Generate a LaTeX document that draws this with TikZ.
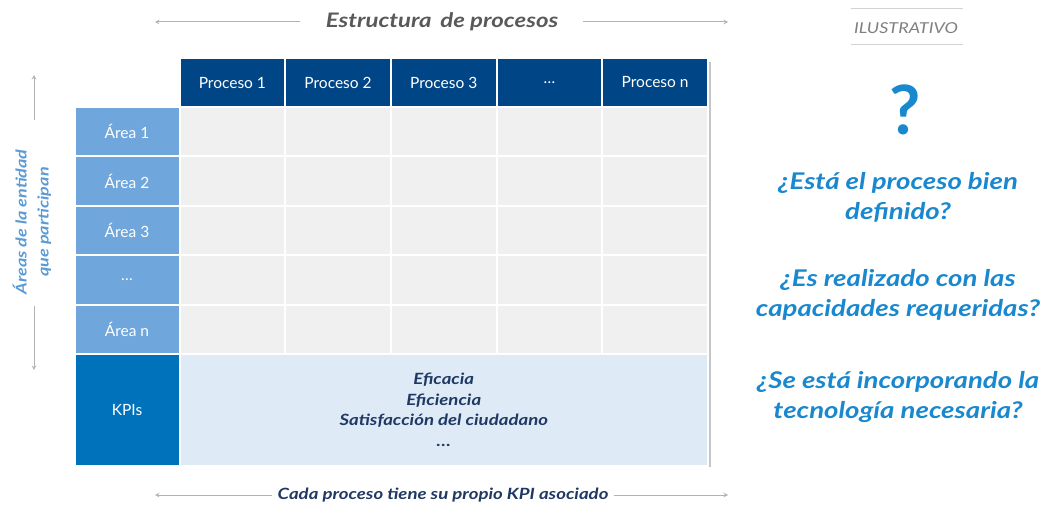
\documentclass[tikz,border=0pt]{standalone}
\usepackage{fontspec}
\setmainfont{Lato}
\newfontfamily\widefont[FakeStretch=1.2]{Lato}
\usetikzlibrary{positioning}
\definecolor{headblue}{RGB}{0,70,135}
\definecolor{areablue}{RGB}{111,166,219}
\definecolor{kpiblue}{RGB}{0,114,188}
\definecolor{bandblue}{RGB}{222,235,247}
\definecolor{cellgray}{RGB}{240,240,240}
\definecolor{askblue}{RGB}{25,136,206}
\definecolor{sideblue}{RGB}{91,155,213}
\definecolor{navy}{RGB}{31,56,100}
\definecolor{txtgray}{RGB}{89,89,89}
\tikzset{>=stealth}
\tikzset{
  cell/.style={draw=white, line width=2pt, inner sep=0pt, anchor=north west,
    minimum width=105.7pt, minimum height=49.4pt, fill=cellgray},
  head/.style={cell, fill=headblue, text=white, font=\fontsize{15.5}{18}\selectfont},
  area/.style={cell, fill=areablue, text=white, minimum width=105pt, font=\fontsize{15.5}{18}\selectfont},
  garrow/.style={->, gray!60, line width=1pt},
  ask/.style={text=askblue, font=\widefont\fontsize{23}{30}\selectfont\bfseries\itshape, align=center}
}

\begin{document}
\begin{tikzpicture}[x=1pt,y=-1pt]
\useasboundingbox (0,0) rectangle (1043,505);
% shadow of the table
\fill[gray!45] (708,62) rectangle (711,467);
\fill[gray!45] (77,464) rectangle (711,467);
% header row
\foreach \i/\t in {1/Proceso 1,2/Proceso 2,3/Proceso 3,4/\dots,5/Proceso n}
\node[head, minimum height=49pt] (h\i) at ({178.5+(\i-1)*105.7},57) {\t};
% area column and cells
\foreach \j/\t in {1/Área 1,2/Área 2,3/Área 3,4/\dots,5/Área n}
\node[area] (a\j) at (73.5,{106+(\j-1)*49.4}) {\t};
\foreach \i in {1,...,5}
\foreach \j in {1,...,5}
\node[cell] (c\j\i) at ({178.5+(\i-1)*105.7},{106+(\j-1)*49.4}) {};
% KPI row
\node[area, fill=kpiblue, minimum height=112pt] (kpi) at (73.5,353) {KPIs};
\node[cell, fill=bandblue, minimum width=528.5pt, minimum height=112pt, text=navy,
  align=center, font=\widefont\fontsize{15.5}{20.5}\selectfont\bfseries\itshape] (band) at (178.5,353)
  {Eficacia\\Eficiencia\\Satisfacción del ciudadano\\\dots};
% top label
\node[text=txtgray, font=\widefont\fontsize{20}{24}\selectfont\bfseries\itshape] (estr) at (442,22) {Estructura\, de procesos};
\coordinate (tl0) at (300,22);
\coordinate (tl) at (155,22);
\coordinate (tr0) at (583,22);
\coordinate (tr) at (728,22);
\draw[garrow] (tl0) -- (tl);
\draw[garrow] (tr0) -- (tr);
% bottom label
\node[text=navy, font=\widefont\fontsize{15.5}{20}\selectfont\bfseries\itshape] (kpitxt) at (443,495) {Cada proceso tiene su propio KPI asociado};
\coordinate (bl) at (155,495);
\coordinate (br) at (728,495);
\draw[garrow] ([xshift=-2pt]kpitxt.west) -- (bl);
\draw[garrow] ([xshift=2pt]kpitxt.east) -- (br);
% side label
\node[rotate=90, text=sideblue, align=center, font=\widefont\fontsize{15}{22}\selectfont\bfseries\itshape] (side) at (32,222)
  {Áreas de la entidad\\que participan};
\coordinate (su0) at (34,120);
\coordinate (su) at (34,75);
\coordinate (sd0) at (34,306);
\coordinate (sd) at (34,370);
\draw[garrow] (su0) -- (su);
\draw[garrow] (sd0) -- (sd);
% illustrative tag
\node[text=gray, font=\widefont\fontsize{15}{20}\selectfont\itshape] (tag) at (906,28) {ILUSTRATIVO};
\draw[gray!35, line width=1pt] (851,9) -- (963,9);
\draw[gray!35, line width=1pt] (851,45) -- (963,45);
% questions
\node[text=askblue, font=\fontsize{68}{70}\selectfont\bfseries] (qm) at (905,110) {?};
\node[ask] (q1) at (898,197) {¿Está el proceso bien\\definido?};
\node[ask] (q2) at (898,295) {¿Es realizado con las\\capacidades requeridas?};
\node[ask] (q3) at (898,397) {¿Se está incorporando la\\tecnología necesaria?};
\end{tikzpicture}
\end{document}
